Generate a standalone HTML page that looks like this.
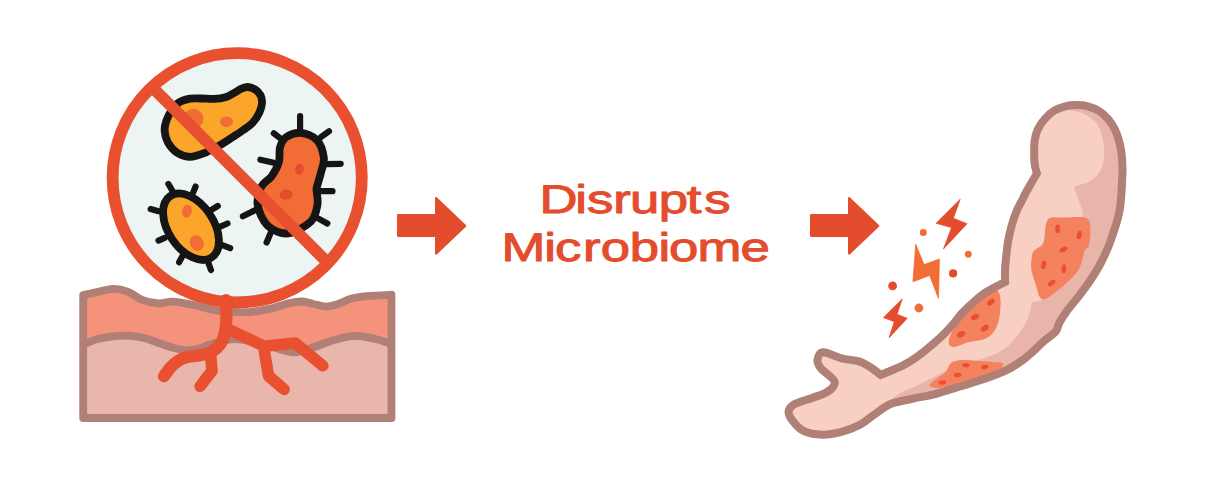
<!DOCTYPE html>
<html lang="en">
<head>
<meta charset="utf-8">
<title>Disrupts Microbiome</title>
<style>
html,body{margin:0;padding:0;background:#fff;}
body{width:1206px;height:486px;overflow:hidden;}
svg{display:block;}
.t{font-family:"Liberation Sans",Arial,Helvetica,sans-serif;font-weight:400;font-size:39.9px;fill:#E34D2E;stroke:#E34D2E;stroke-width:1px;stroke-linejoin:round;vector-effect:non-scaling-stroke;text-rendering:geometricPrecision;}
</style>
</head>
<body>
<svg width="1206" height="486" viewBox="0 0 1206 486">
<rect width="1206" height="486" fill="#fff"/>
<path d="M83.2 295.1C85.1 294.7 89.7 293.7 94.7 292.6C99.7 291.6 107.7 289.1 113.2 288.9C118.7 288.8 122.8 289.8 127.6 291.6C132.4 293.4 136.9 297.9 142 299.8C147.2 301.8 153.4 303 158.5 303.3C163.7 303.7 167.1 301.4 172.9 301.7C178.8 302 186.6 303.6 193.5 305C200.4 306.4 207.2 309 214.1 310.1C221 311.3 228.4 311.5 234.7 311.8C241 312.1 245.5 312.4 251.8 311.8C258 311.2 266.2 309.5 272.3 308.1C278.5 306.7 283.8 304.4 288.8 303.3C293.8 302.2 298.1 301.4 302.2 301.5C306.3 301.6 309.6 303.1 313.5 304C317.5 304.8 321.7 306.6 325.9 306.6C330 306.6 334.1 305.3 338.2 304C342.3 302.7 345.8 300.1 350.6 298.8C355.4 297.5 360.2 296.8 367 296.1C373.9 295.5 387.4 294.9 391.5 294.7 L391.5 418 L83.2 418 Z" fill="#E9B6AB"/>
<path d="M83.2 295.1C85.1 294.7 89.7 293.7 94.7 292.6C99.7 291.6 107.7 289.1 113.2 288.9C118.7 288.8 122.8 289.8 127.6 291.6C132.4 293.4 136.9 297.9 142 299.8C147.2 301.8 153.4 303 158.5 303.3C163.7 303.7 167.1 301.4 172.9 301.7C178.8 302 186.6 303.6 193.5 305C200.4 306.4 207.2 309 214.1 310.1C221 311.3 228.4 311.5 234.7 311.8C241 312.1 245.5 312.4 251.8 311.8C258 311.2 266.2 309.5 272.3 308.1C278.5 306.7 283.8 304.4 288.8 303.3C293.8 302.2 298.1 301.4 302.2 301.5C306.3 301.6 309.6 303.1 313.5 304C317.5 304.8 321.7 306.6 325.9 306.6C330 306.6 334.1 305.3 338.2 304C342.3 302.7 345.8 300.1 350.6 298.8C355.4 297.5 360.2 296.8 367 296.1C373.9 295.5 387.4 294.9 391.5 294.7 L391.5 344.1 C388.8 343.2 381.4 340.3 375.3 339C369.1 337.6 361.5 335.7 354.7 335.9C347.8 336 341 338.1 334.1 340C327.2 341.9 320.5 345.1 313.5 347.2C306.5 349.3 300.6 352.9 292.3 352.3C284 351.8 273.1 346.3 263.5 344.1C253.9 341.9 243.4 338.9 234.7 339C225.9 339 216.8 342.6 211 344.2C205.2 345.8 204 347.3 200 348.3C196 349.3 191.4 350.4 187 350.4C182.6 350.3 178.4 349.2 173.7 348C169 346.8 163.8 344.7 158.9 343C154 341.3 148.7 339.2 144.1 338C139.5 336.8 135.7 336.2 131.1 335.9C126.5 335.6 121.8 335.6 116.3 336.1C110.8 336.6 103.3 337.6 97.8 339C92.3 340.4 85.6 343.7 83.2 344.6 Z" fill="#F5927B"/>
<path d="M83.2 344.6C85.6 343.7 92.3 340.4 97.8 339C103.3 337.6 110.8 336.6 116.3 336.1C121.8 335.6 126.5 335.6 131.1 335.9C135.7 336.2 139.5 336.8 144.1 338C148.7 339.2 154 341.3 158.9 343C163.8 344.7 169 346.8 173.7 348C178.4 349.2 182.6 350.3 187 350.4C191.4 350.4 196 349.3 200 348.3C204 347.3 205.2 345.8 211 344.2C216.8 342.6 225.9 339 234.7 339C243.4 338.9 253.9 341.9 263.5 344.1C273.1 346.3 284 351.8 292.3 352.3C300.6 352.9 306.5 349.3 313.5 347.2C320.5 345.1 327.2 341.9 334.1 340C341 338.1 347.8 336 354.7 335.9C361.5 335.7 369.1 337.6 375.3 339C381.4 340.3 388.8 343.2 391.5 344.1" fill="none" stroke="#B07F75" stroke-width="7.8" stroke-linejoin="round"/>
<path d="M83.2 295.1C85.1 294.7 89.7 293.7 94.7 292.6C99.7 291.6 107.7 289.1 113.2 288.9C118.7 288.8 122.8 289.8 127.6 291.6C132.4 293.4 136.9 297.9 142 299.8C147.2 301.8 153.4 303 158.5 303.3C163.7 303.7 167.1 301.4 172.9 301.7C178.8 302 186.6 303.6 193.5 305C200.4 306.4 207.2 309 214.1 310.1C221 311.3 228.4 311.5 234.7 311.8C241 312.1 245.5 312.4 251.8 311.8C258 311.2 266.2 309.5 272.3 308.1C278.5 306.7 283.8 304.4 288.8 303.3C293.8 302.2 298.1 301.4 302.2 301.5C306.3 301.6 309.6 303.1 313.5 304C317.5 304.8 321.7 306.6 325.9 306.6C330 306.6 334.1 305.3 338.2 304C342.3 302.7 345.8 300.1 350.6 298.8C355.4 297.5 360.2 296.8 367 296.1C373.9 295.5 387.4 294.9 391.5 294.7 L391.5 418 L83.2 418 Z" fill="none" stroke="#B07F75" stroke-width="7.8" stroke-linejoin="round"/>
<circle cx="237.2" cy="177.8" r="124.6" fill="#ECF5F3"/>
<path d="M247.6 87C249.9 87.1 252.8 88.1 255 89.4C257.2 90.8 259.4 93.1 260.6 95.4C261.7 97.6 262.2 100 262 102.8C261.9 105.6 261.1 108.8 259.6 112C258.1 115.3 255.8 119.3 253.1 122.2C250.5 125.2 247.3 127.2 243.9 129.6C240.5 132.1 236.8 134.4 232.8 137C228.8 139.7 224.4 142.7 219.8 145.4C215.2 148 209.9 150.9 205 152.8C200.1 154.7 194.8 156.9 190.2 156.9C185.6 156.9 180.9 155.2 177.2 152.8C173.5 150.4 170.1 146.3 168 142.6C165.9 138.9 164.9 134.3 164.6 130.6C164.4 126.9 165.3 123.8 166.5 120.4C167.7 117 169.6 113.2 171.7 110.2C173.8 107.2 176 104.3 179.1 102.4C182.2 100.5 186.5 99.4 190.2 98.7C193.9 98.1 197.3 98.5 201.3 98.5C205.3 98.5 210.2 99.1 214.3 98.9C218.3 98.7 222 98.3 225.4 97.2C228.8 96.2 232 94 234.6 92.6C237.3 91.2 239 89.8 241.1 88.9C243.3 88 245.3 86.9 247.6 87Z" fill="#FBA52B" stroke="#151515" stroke-width="7.8" stroke-linejoin="round"/>
<circle cx="193.5" cy="118.7" r="10" fill="#F26D35"/>
<ellipse cx="226.5" cy="121.8" rx="6.5" ry="5.4" fill="#F26D35"/>
<path d="M300.1 130.9 L300.1 116.1 M321.1 137.1 L329 131.3 M280 138.1 L273.8 133.3 M273.8 162.8 L260.4 159.7 M325.3 164.2 L340.7 163.8 M319.1 191.2 L332.5 191.2 M255.3 210.1 L242.9 216.3 M270.7 232.8 L266.6 242.5 M318.1 218.4 L327.3 223.5" fill="none" stroke="#151515" stroke-width="6.2" stroke-linecap="round"/>
<path d="M300.6 132.9C305.7 133.4 313.2 136 317 140.1C320.9 144.3 323.1 152.3 323.8 157.6C324.5 163 322.3 167.2 321.1 172C320 176.8 317.8 183.4 317 186.5C316.3 189.5 316.5 187.5 316.6 190.6C316.7 193.7 318.4 199.8 317.4 205C316.5 210.1 315.7 216.7 310.9 221.5C306 226.2 295.4 232.7 288.2 233.4C281 234.1 272.7 230.3 267.6 225.6C262.5 220.8 258.8 211.5 257.7 205C256.7 198.5 259.1 191.3 261.4 186.5C263.8 181.7 268.8 180.3 271.7 176.2C274.7 172 277.6 166.6 278.9 161.8C280.3 157 278.8 151.5 280 147.3C281.2 143.2 282.7 139.5 286.2 137.1C289.6 134.7 295.4 132.4 300.6 132.9Z" fill="#F26D35" stroke="#151515" stroke-width="7.8" stroke-linejoin="round"/>
<ellipse cx="299.5" cy="169.4" rx="4.2" ry="5.6" fill="#E34D2E" transform="rotate(10 299.5 169.4)"/>
<ellipse cx="286.2" cy="194.7" rx="6.6" ry="4.9" fill="#E34D2E" transform="rotate(-10 286.2 194.7)"/>
<path d="M172.9 191.6 L168.4 184 M193.1 192.6 L195.6 186.5 M158.5 211.2 L150.7 209.1 M211 210.1 L217.8 206 M220.3 226.6 L227.5 223.5 M222.3 245.1 L230.2 248.2 M164.7 237.9 L158.5 240.6 M182.2 256.5 L179.1 262.2 M207.9 261.6 L211 270" fill="none" stroke="#151515" stroke-width="6.2" stroke-linecap="round"/>
<ellipse cx="191" cy="226.7" rx="22.6" ry="37" fill="#FBA52B" stroke="#151515" stroke-width="7.8" transform="rotate(-34 191 226.7)"/>
<ellipse cx="186.9" cy="211.2" rx="4.9" ry="6.6" fill="#F26D35" transform="rotate(10 186.9 211.2)"/>
<ellipse cx="196.8" cy="243.1" rx="6.8" ry="8" fill="#F26D35" transform="rotate(-30 196.8 243.1)"/>
<path d="M151.9 86.9 L328.1 263.1" stroke="#E9502F" stroke-width="11.8" fill="none"/>
<circle cx="237.2" cy="177.8" r="124.6" fill="none" stroke="#E9502F" stroke-width="11.8"/>
<path d="M226 300C226 301.3 226.1 304.9 226.2 308C226.3 311.1 226.6 314.6 226.4 318.5C226.2 322.4 225.8 327.5 225 331.5C224.2 335.5 223.3 339.4 221.3 342.6C219.3 345.8 216.6 348.8 213 350.9C209.4 353 204.3 354.2 200 355.2C195.7 356.2 190.7 356 187 357C183.3 358 180.6 359.3 177.8 361.1C175 362.9 172.7 365.1 170.4 367.6C168.1 370.1 165.1 374.8 164 376.2" fill="none" stroke="#E9502F" stroke-width="12.2" stroke-linecap="round" stroke-linejoin="round"/>
<path d="M210.6 354.4L212 370.9L200.1 386.3" fill="none" stroke="#E9502F" stroke-width="11.6" stroke-linecap="round" stroke-linejoin="round"/>
<path d="M228.1 329.3L264.1 346.2L295 343.1L322.8 365.7" fill="none" stroke="#E9502F" stroke-width="11.6" stroke-linecap="round" stroke-linejoin="round"/>
<path d="M264.1 346.2L264.5 352.4L268.6 376L284.1 389.4" fill="none" stroke="#E9502F" stroke-width="11.6" stroke-linecap="round" stroke-linejoin="round"/>
<path d="M398.2 215.1L436.2 215.1L436.2 198.3L465.1 225.9L436.2 253.5L436.2 235.8L398.2 235.8Z" fill="#E34D2E" stroke="#E34D2E" stroke-width="2.4" stroke-linejoin="round"/>
<path d="M811.2 215.1L849.2 215.1L849.2 198.3L878.1 225.9L849.2 253.5L849.2 235.8L811.2 235.8Z" fill="#E34D2E" stroke="#E34D2E" stroke-width="2.4" stroke-linejoin="round"/>
<text transform="scale(1.32 1)" x="408.74 435.88 444.74 464.56 477.19 499.06 520.36 533.45" y="212.5" class="t">Disrupts</text>
<text transform="scale(1.32 1)" x="379.90 412.24 420.39 441.76 455.19 477.17 498.84 506.75 528.49 560.99" y="260.55" class="t">Microbiome</text>
<path d="M960.2 199.3L936.1 223.3L951.5 227.6L943.5 248.9L967 223.7L953.3 218.3Z" fill="#E34D2E" stroke="#E34D2E" stroke-width="0.8" stroke-linejoin="round"/>
<path d="M915.7 244.3L924.1 264.6L939.4 259.1L938.5 298.5L929.6 275.4L913 281.7Z" fill="#F26D35" stroke="#F26D35" stroke-width="0.8" stroke-linejoin="round"/>
<path d="M902.2 299.1L883.5 317.6L894.3 321.7L889.1 337.8L907.2 318.3L897 314.3Z" fill="#E34D2E" stroke="#E34D2E" stroke-width="0.8" stroke-linejoin="round"/>
<circle cx="923.3" cy="232.4" r="3.5" fill="#F26D35"/>
<circle cx="968.3" cy="254.2" r="3.4" fill="#F26D35"/>
<circle cx="953.1" cy="273.4" r="4.1" fill="#E34D2E"/>
<circle cx="892.6" cy="285.9" r="4.4" fill="#E34D2E"/>
<circle cx="918.9" cy="308" r="4.4" fill="#F26D35"/>
<clipPath id="armclip"><path d="M1036.9 173.4C1036.5 171.8 1035.1 167.7 1034.7 164.1C1034.2 160.5 1034.2 155.7 1034.2 151.7C1034.2 147.7 1034 144 1034.7 140.1C1035.3 136.3 1036.4 132.3 1038.1 128.8C1039.9 125.2 1042.4 121.6 1045.1 118.6C1047.7 115.6 1050.8 112.8 1054.2 110.7C1057.6 108.7 1061.6 107.2 1065.3 106.3C1069 105.3 1072.6 105.1 1076.4 105.1C1080.2 105.1 1084.2 105.3 1088 106.3C1091.8 107.3 1095.8 108.9 1099.1 111C1102.5 113.1 1105.4 115.9 1108 118.9C1110.6 121.9 1112.9 125.4 1114.7 129C1116.5 132.6 1117.8 136.5 1118.9 140.4C1120 144.2 1120.8 148.3 1121.4 152.2C1121.9 156.2 1122.2 160 1122.3 164.1C1122.5 168.1 1122.8 168.5 1122.3 176.4C1121.9 184.3 1121.5 200.5 1119.4 211.6C1117.3 222.7 1112.9 234.3 1109.8 243C1106.6 251.6 1103.6 257.6 1100.5 263.6C1097.4 269.6 1094.9 273.4 1091.4 278.7C1087.9 284 1083.5 290 1079.4 295.4C1075.3 300.8 1070.3 306.3 1067 310.8C1063.7 315.3 1061.4 319 1059.5 322.5C1057.6 326 1058.3 328.5 1055.6 331.7C1052.9 334.9 1047.3 338.2 1043.5 341.5C1039.7 344.8 1036.5 348.4 1033 351.5C1029.5 354.6 1026.4 357.4 1022.5 360.3C1018.6 363.2 1013.8 366.3 1009.5 368.6C1005.2 370.9 1002.2 372.2 997 374.2C991.8 376.2 984.7 378.8 978.5 380.8C972.3 382.9 967.1 384.3 960 386.5C952.9 388.7 944 391.8 936 393.8C928 395.9 919.6 397.1 912.1 398.8C904.6 400.5 897.1 401.4 891.1 403.8C885.1 406.2 881.1 409.9 875.8 413.5C870.5 417 865.4 421.9 859.5 425.1C853.6 428.2 846.7 430.6 840.5 432.2C834.2 433.8 828.1 434.9 822 434.7C815.9 434.5 808.8 433.5 804 431.2C799.1 429 795.6 424.7 793.1 421.4C790.5 418.1 788.4 414.4 788.6 411.5C788.9 408.6 790.9 406.3 794.8 404.1C798.7 401.8 806.7 399.9 812.1 397.9C817.4 395.9 823.1 394.7 826.9 392.2C830.7 389.8 834.4 385.8 834.8 383.1C835.2 380.3 831.7 378.1 829.4 375.7C827 373.2 822.7 370.9 820.7 368.3C818.8 365.6 817.1 362.3 817.5 359.6C817.9 357 819.2 352.4 823.2 352.2C827.2 352 835.8 356.9 841.7 358.4C847.7 359.9 854.3 359.9 859 361.4C863.7 362.8 866.5 364.8 870.1 367C873.7 369.3 879 373.6 880.7 374.9C884.5 373.3 897.3 368.2 903.5 365.1C909.7 362 913.6 359.1 918 356C922.4 352.9 926 349.9 930 346.5C934 343.1 938.3 339.5 942.3 335.6C946.3 331.7 950.5 327 953.9 323.2C957.2 319.4 959.2 316.2 962.4 312.7C965.6 309.2 969.6 305.6 973.2 302.4C976.8 299.2 980.4 296.1 984 293.6C987.6 291.1 991.3 289.2 994.8 287.3C998.3 285.4 1003.4 282.8 1005.1 281.9C1005.1 279.7 1004.8 274.2 1005 270C1005.2 265.8 1005.7 261.5 1006.2 256.7C1006.7 251.9 1007.2 246.4 1008.1 241.3C1009 236.2 1010.2 231 1011.6 225.9C1013.1 220.7 1014.7 215.6 1016.9 210.4C1019.1 205.3 1023.5 197.6 1024.8 195C1026 192.4 1023.4 196.9 1024.4 195.1C1025.4 193.3 1028.5 187.9 1030.6 184.3C1032.7 180.7 1035.9 175.2 1036.9 173.4Z"/></clipPath>
<path d="M1036.9 173.4C1036.5 171.8 1035.1 167.7 1034.7 164.1C1034.2 160.5 1034.2 155.7 1034.2 151.7C1034.2 147.7 1034 144 1034.7 140.1C1035.3 136.3 1036.4 132.3 1038.1 128.8C1039.9 125.2 1042.4 121.6 1045.1 118.6C1047.7 115.6 1050.8 112.8 1054.2 110.7C1057.6 108.7 1061.6 107.2 1065.3 106.3C1069 105.3 1072.6 105.1 1076.4 105.1C1080.2 105.1 1084.2 105.3 1088 106.3C1091.8 107.3 1095.8 108.9 1099.1 111C1102.5 113.1 1105.4 115.9 1108 118.9C1110.6 121.9 1112.9 125.4 1114.7 129C1116.5 132.6 1117.8 136.5 1118.9 140.4C1120 144.2 1120.8 148.3 1121.4 152.2C1121.9 156.2 1122.2 160 1122.3 164.1C1122.5 168.1 1122.8 168.5 1122.3 176.4C1121.9 184.3 1121.5 200.5 1119.4 211.6C1117.3 222.7 1112.9 234.3 1109.8 243C1106.6 251.6 1103.6 257.6 1100.5 263.6C1097.4 269.6 1094.9 273.4 1091.4 278.7C1087.9 284 1083.5 290 1079.4 295.4C1075.3 300.8 1070.3 306.3 1067 310.8C1063.7 315.3 1061.4 319 1059.5 322.5C1057.6 326 1058.3 328.5 1055.6 331.7C1052.9 334.9 1047.3 338.2 1043.5 341.5C1039.7 344.8 1036.5 348.4 1033 351.5C1029.5 354.6 1026.4 357.4 1022.5 360.3C1018.6 363.2 1013.8 366.3 1009.5 368.6C1005.2 370.9 1002.2 372.2 997 374.2C991.8 376.2 984.7 378.8 978.5 380.8C972.3 382.9 967.1 384.3 960 386.5C952.9 388.7 944 391.8 936 393.8C928 395.9 919.6 397.1 912.1 398.8C904.6 400.5 897.1 401.4 891.1 403.8C885.1 406.2 881.1 409.9 875.8 413.5C870.5 417 865.4 421.9 859.5 425.1C853.6 428.2 846.7 430.6 840.5 432.2C834.2 433.8 828.1 434.9 822 434.7C815.9 434.5 808.8 433.5 804 431.2C799.1 429 795.6 424.7 793.1 421.4C790.5 418.1 788.4 414.4 788.6 411.5C788.9 408.6 790.9 406.3 794.8 404.1C798.7 401.8 806.7 399.9 812.1 397.9C817.4 395.9 823.1 394.7 826.9 392.2C830.7 389.8 834.4 385.8 834.8 383.1C835.2 380.3 831.7 378.1 829.4 375.7C827 373.2 822.7 370.9 820.7 368.3C818.8 365.6 817.1 362.3 817.5 359.6C817.9 357 819.2 352.4 823.2 352.2C827.2 352 835.8 356.9 841.7 358.4C847.7 359.9 854.3 359.9 859 361.4C863.7 362.8 866.5 364.8 870.1 367C873.7 369.3 879 373.6 880.7 374.9C884.5 373.3 897.3 368.2 903.5 365.1C909.7 362 913.6 359.1 918 356C922.4 352.9 926 349.9 930 346.5C934 343.1 938.3 339.5 942.3 335.6C946.3 331.7 950.5 327 953.9 323.2C957.2 319.4 959.2 316.2 962.4 312.7C965.6 309.2 969.6 305.6 973.2 302.4C976.8 299.2 980.4 296.1 984 293.6C987.6 291.1 991.3 289.2 994.8 287.3C998.3 285.4 1003.4 282.8 1005.1 281.9C1005.1 279.7 1004.8 274.2 1005 270C1005.2 265.8 1005.7 261.5 1006.2 256.7C1006.7 251.9 1007.2 246.4 1008.1 241.3C1009 236.2 1010.2 231 1011.6 225.9C1013.1 220.7 1014.7 215.6 1016.9 210.4C1019.1 205.3 1023.5 197.6 1024.8 195C1026 192.4 1023.4 196.9 1024.4 195.1C1025.4 193.3 1028.5 187.9 1030.6 184.3C1032.7 180.7 1035.9 175.2 1036.9 173.4Z" fill="#F7CFC3"/>
<path d="M1062 107.5C1063 107.9 1064.6 108.7 1068.1 109.7C1071.6 110.7 1078.5 111.2 1083.2 113.4C1087.9 115.6 1093 119 1096.2 123.1C1099.4 127.2 1101.3 132.8 1102.6 138.2C1103.9 143.6 1104.4 150.1 1104.1 155.5C1103.8 160.9 1102.9 166.3 1100.5 170.6C1098.1 174.9 1094 178.8 1089.7 181.4C1085.4 184 1077 185.4 1074.4 186.2C1074.4 188.8 1077.9 197.1 1079.4 202.2C1080.9 207.4 1083.2 209.1 1082.6 217C1082 225 1080.4 238.8 1076 250C1071.6 261.2 1061.3 275.9 1056 284C1050.7 292.1 1048 295.4 1044 298.5C1040 301.6 1033.8 301.8 1031.7 302.4C1031.3 304.2 1030.6 309.6 1029.6 313C1028.6 316.4 1027.3 319.5 1025.5 323C1023.7 326.5 1021.6 330 1018.6 333.9C1015.6 337.8 1011.7 342.8 1007.8 346.2C1003.9 349.6 1000 351.8 995.4 354C990.8 356.2 984.9 357.7 980 359.4C975.1 361.1 971.6 362.1 966 364C960.4 365.9 952.1 368.5 946.3 370.9C940.4 373.3 936 376 930.9 378.6C925.8 381.2 920.5 383.9 915.4 386.3C910.2 388.7 904.5 390.6 900 393.2C895.5 395.8 890.5 400.2 888.6 401.6L880 440 L1160 440 L1160 90 L1062 90 Z" fill="#E9B5AA" clip-path="url(#armclip)"/>
<path d="M1049.4 218.1C1051.8 216.7 1057.5 217.6 1060.2 217.5C1062.9 217.4 1062 217.7 1065.4 217.6C1068.9 217.5 1077 216.6 1080.9 217C1084.8 217.4 1087 217.8 1088.6 220.1C1090.2 222.4 1090.4 226.5 1090.4 230.9C1090.4 235.3 1089.5 243.1 1088.6 246.3C1087.7 249.5 1085.9 247.3 1084.8 250C1083.7 252.7 1083.1 258.4 1081.7 262.3C1080.3 266.2 1079 269.5 1076.3 273.1C1073.6 276.7 1069.4 280.5 1065.5 284C1061.6 287.5 1056.7 291.4 1053.1 294C1049.5 296.6 1046.2 299 1043.9 299.4C1041.6 299.8 1040.5 298.1 1039.3 296.3C1038.1 294.5 1038.2 293 1036.9 288.6C1035.6 284.2 1032.4 275.1 1031.5 270C1030.6 264.9 1031.3 261.5 1031.7 258.3C1032.1 255.1 1032.2 252.9 1034 250.6C1035.8 248.3 1040.7 247 1042.5 244.4C1044.3 241.8 1044.3 238.2 1044.8 235.1C1045.3 232 1044.8 228.7 1045.6 225.9C1046.4 223.1 1047 219.5 1049.4 218.1Z" fill="#F5825E" clip-path="url(#armclip)"/>
<path d="M996.4 290C998.5 290.9 999.6 293.5 1000.2 297C1000.9 300.4 1000.6 306.5 1000.2 310.9C999.8 315.2 999.1 319.6 997.9 323.2C996.7 326.8 995.3 329.9 993.3 332.5C991.2 335 988.4 337.2 985.6 338.6C982.7 340.1 979.4 340.3 976.3 341C973.2 341.6 969.9 341.7 967 342.5C964.2 343.3 961.8 344.8 959.3 345.6C956.9 346.4 954.1 347.5 952.4 347.1C950.6 346.8 949.1 345.7 948.8 343.6C948.6 341.4 949.3 337.7 950.8 334.3C952.3 330.9 955.1 327.1 957.8 323.2C960.5 319.3 963.7 315 967 310.9C970.4 306.7 974.4 301.7 977.8 298.5C981.2 295.4 984.3 293.3 987.4 291.9C990.5 290.5 994.2 289.2 996.4 290Z" fill="#F5825E" clip-path="url(#armclip)"/>
<path d="M950.9 363.1C953.5 361.3 957.4 360.4 961.7 360.1C966.1 359.7 972 360.5 977.2 360.8C982.3 361.1 988.7 361.6 992.6 361.9C996.5 362.2 998.6 362.1 1000.3 362.5C1002.1 362.9 1003.1 363.2 1003.1 364.2C1003 365.2 1003 366.5 1000 368.5C997 370.6 990 374.1 984.9 376.3C979.8 378.4 974.6 379.8 969.4 381.4C964.3 382.9 959.2 384.4 954 385.5C948.9 386.7 942.6 388 938.6 388.1C934.6 388.3 931.4 387.1 930.1 386.3C928.8 385.5 929.4 384.8 930.9 383.2C932.3 381.7 936 379.1 938.6 377C941.2 375 944.2 373.2 946.3 370.9C948.4 368.5 948.4 364.9 950.9 363.1Z" fill="#F5825E" clip-path="url(#armclip)"/>
<ellipse cx="1057.7" cy="228.9" rx="2.4" ry="4.3" fill="#E9502F" transform="rotate(0 1057.7 228.9)"/>
<ellipse cx="1079.3" cy="235" rx="2.4" ry="4.3" fill="#E9502F" transform="rotate(10 1079.3 235)"/>
<ellipse cx="1063.6" cy="249.4" rx="2.4" ry="4.3" fill="#E9502F" transform="rotate(65 1063.6 249.4)"/>
<ellipse cx="1043.7" cy="264.8" rx="2.4" ry="4.3" fill="#E9502F" transform="rotate(15 1043.7 264.8)"/>
<ellipse cx="1063.9" cy="268.7" rx="2.4" ry="4.3" fill="#E9502F" transform="rotate(5 1063.9 268.7)"/>
<ellipse cx="1051.7" cy="283" rx="2.4" ry="4.3" fill="#E9502F" transform="rotate(55 1051.7 283)"/>
<ellipse cx="991" cy="302.1" rx="4.3" ry="2.8" fill="#E9502F" transform="rotate(-38 991 302.1)"/>
<ellipse cx="975.1" cy="317" rx="4.3" ry="2.8" fill="#E9502F" transform="rotate(-22 975.1 317)"/>
<ellipse cx="984.8" cy="328.1" rx="4.3" ry="2.8" fill="#E9502F" transform="rotate(-38 984.8 328.1)"/>
<ellipse cx="961.2" cy="334.3" rx="4.3" ry="2.8" fill="#E9502F" transform="rotate(-22 961.2 334.3)"/>
<ellipse cx="965.9" cy="365.2" rx="3.8" ry="2.2" fill="#E9502F" transform="rotate(5 965.9 365.2)"/>
<ellipse cx="984.9" cy="367" rx="3.8" ry="2.2" fill="#E9502F" transform="rotate(-10 984.9 367)"/>
<ellipse cx="957.6" cy="375" rx="3.8" ry="2.2" fill="#E9502F" transform="rotate(-5 957.6 375)"/>
<ellipse cx="942.4" cy="382.4" rx="3.8" ry="2.2" fill="#E9502F" transform="rotate(-5 942.4 382.4)"/>
<path d="M1036.9 173.4C1036.5 171.8 1035.1 167.7 1034.7 164.1C1034.2 160.5 1034.2 155.7 1034.2 151.7C1034.2 147.7 1034 144 1034.7 140.1C1035.3 136.3 1036.4 132.3 1038.1 128.8C1039.9 125.2 1042.4 121.6 1045.1 118.6C1047.7 115.6 1050.8 112.8 1054.2 110.7C1057.6 108.7 1061.6 107.2 1065.3 106.3C1069 105.3 1072.6 105.1 1076.4 105.1C1080.2 105.1 1084.2 105.3 1088 106.3C1091.8 107.3 1095.8 108.9 1099.1 111C1102.5 113.1 1105.4 115.9 1108 118.9C1110.6 121.9 1112.9 125.4 1114.7 129C1116.5 132.6 1117.8 136.5 1118.9 140.4C1120 144.2 1120.8 148.3 1121.4 152.2C1121.9 156.2 1122.2 160 1122.3 164.1C1122.5 168.1 1122.8 168.5 1122.3 176.4C1121.9 184.3 1121.5 200.5 1119.4 211.6C1117.3 222.7 1112.9 234.3 1109.8 243C1106.6 251.6 1103.6 257.6 1100.5 263.6C1097.4 269.6 1094.9 273.4 1091.4 278.7C1087.9 284 1083.5 290 1079.4 295.4C1075.3 300.8 1070.3 306.3 1067 310.8C1063.7 315.3 1061.4 319 1059.5 322.5C1057.6 326 1058.3 328.5 1055.6 331.7C1052.9 334.9 1047.3 338.2 1043.5 341.5C1039.7 344.8 1036.5 348.4 1033 351.5C1029.5 354.6 1026.4 357.4 1022.5 360.3C1018.6 363.2 1013.8 366.3 1009.5 368.6C1005.2 370.9 1002.2 372.2 997 374.2C991.8 376.2 984.7 378.8 978.5 380.8C972.3 382.9 967.1 384.3 960 386.5C952.9 388.7 944 391.8 936 393.8C928 395.9 919.6 397.1 912.1 398.8C904.6 400.5 897.1 401.4 891.1 403.8C885.1 406.2 881.1 409.9 875.8 413.5C870.5 417 865.4 421.9 859.5 425.1C853.6 428.2 846.7 430.6 840.5 432.2C834.2 433.8 828.1 434.9 822 434.7C815.9 434.5 808.8 433.5 804 431.2C799.1 429 795.6 424.7 793.1 421.4C790.5 418.1 788.4 414.4 788.6 411.5C788.9 408.6 790.9 406.3 794.8 404.1C798.7 401.8 806.7 399.9 812.1 397.9C817.4 395.9 823.1 394.7 826.9 392.2C830.7 389.8 834.4 385.8 834.8 383.1C835.2 380.3 831.7 378.1 829.4 375.7C827 373.2 822.7 370.9 820.7 368.3C818.8 365.6 817.1 362.3 817.5 359.6C817.9 357 819.2 352.4 823.2 352.2C827.2 352 835.8 356.9 841.7 358.4C847.7 359.9 854.3 359.9 859 361.4C863.7 362.8 866.5 364.8 870.1 367C873.7 369.3 879 373.6 880.7 374.9C884.5 373.3 897.3 368.2 903.5 365.1C909.7 362 913.6 359.1 918 356C922.4 352.9 926 349.9 930 346.5C934 343.1 938.3 339.5 942.3 335.6C946.3 331.7 950.5 327 953.9 323.2C957.2 319.4 959.2 316.2 962.4 312.7C965.6 309.2 969.6 305.6 973.2 302.4C976.8 299.2 980.4 296.1 984 293.6C987.6 291.1 991.3 289.2 994.8 287.3C998.3 285.4 1003.4 282.8 1005.1 281.9C1005.1 279.7 1004.8 274.2 1005 270C1005.2 265.8 1005.7 261.5 1006.2 256.7C1006.7 251.9 1007.2 246.4 1008.1 241.3C1009 236.2 1010.2 231 1011.6 225.9C1013.1 220.7 1014.7 215.6 1016.9 210.4C1019.1 205.3 1023.5 197.6 1024.8 195C1026 192.4 1023.4 196.9 1024.4 195.1C1025.4 193.3 1028.5 187.9 1030.6 184.3C1032.7 180.7 1035.9 175.2 1036.9 173.4Z" fill="none" stroke="#B07F75" stroke-width="8" stroke-linejoin="miter"/>
</svg>
</body>
</html>
